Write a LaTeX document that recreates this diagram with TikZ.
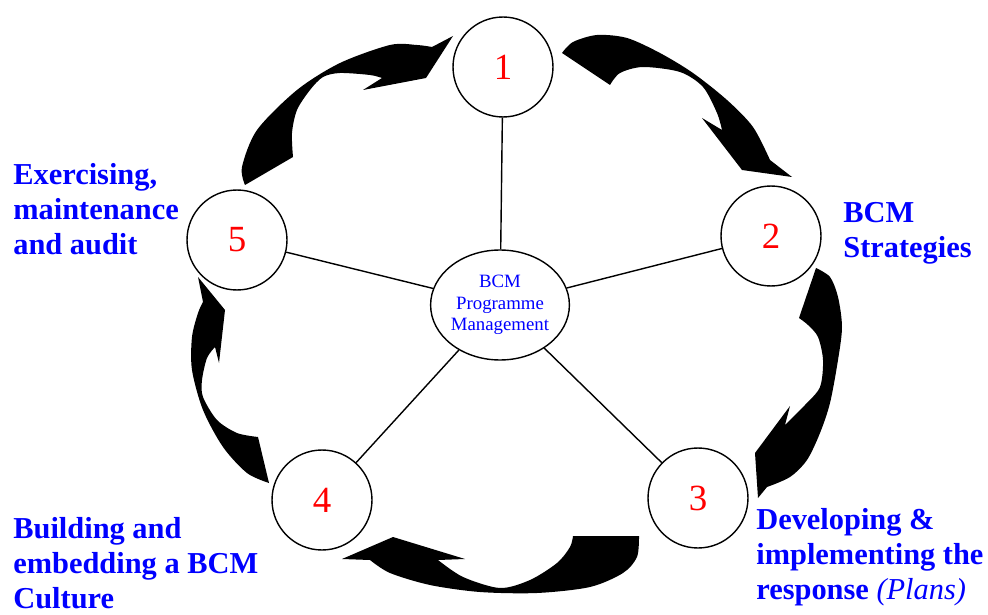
\documentclass[tikz,border=0pt]{standalone}
\usepackage{fontspec}
\setmainfont{Liberation Serif}
\usepackage{xcolor}
\usepackage{tikz}
\usetikzlibrary{shapes.geometric}

\begin{document}
\begin{tikzpicture}[x=0.02cm, y=-0.02cm,
    stage/.style={shape=circle, draw, line width=0.8pt, minimum size=2cm, inner sep=0pt,
      text=red, font=\fontsize{21}{24}\selectfont},
    hub/.style={shape=ellipse, draw, line width=0.8pt, minimum width=2.62cm, minimum height=2.2cm,
      inner sep=0pt, text=blue, align=center, font=\fontsize{10.7}{12.3}\selectfont},
    caption/.style={anchor=north west, inner sep=0pt, text=blue, align=left,
      font=\fontsize{17.3}{19.9}\selectfont\bfseries},
    curly/.style={fill=black}]
    \useasboundingbox (0,0) rectangle (988,615);

    \node[hub] (hub) at (500,305) {BCM\\Programme\\Management};
    \node[stage] (n1) at (503,67) {1};
    \node[stage] (n2) at (771,236) {2};
    \node[stage] (n3) at (698,498) {3};
    \node[stage] (n4) at (322,500) {4};
    \node[stage] (n5) at (237,240) {5};

    \foreach \n in {1,...,5}
      \draw[line width=0.8pt] (hub) -- (n\n);

    % curved arrows round the cycle
    \fill[curly] plot[smooth] coordinates {(245,185) (242,167) (257,130) (297,90) (340,63) (390,45) (417,45) (432,47)}
      -- (453,36) -- (426,78) -- (363,90) -- (382,78)
      -- plot[smooth] coordinates {(382,78) (370,75) (340,73) (323,77) (310,90) (297,110) (292,133) (293,157)} -- cycle;
    \fill[curly] plot[smooth] coordinates {(562,53) (573,42) (597,35) (627,38) (660,53) (693,73) (727,100) (753,127) (770,160)}
      -- (792,177) -- (742,170) -- (702,118) -- (722,130)
      -- plot[smooth] coordinates {(722,130) (717,113) (703,87) (680,72) (643,67) (620,73) (610,85)} -- cycle;
    \fill[curly] plot[smooth] coordinates {(816,268) (830,277) (838,297) (842,327) (838,360) (830,403) (820,433) (807,460) (790,477) (767,487)}
      -- (758,498) -- (755,453) -- (790,406) -- (785,425)
      -- plot[smooth] coordinates {(785,425) (805,405) (820,387) (823,360) (818,337) (808,325) (799,318)} -- cycle;
    \fill[curly] plot[smooth] coordinates {(639,536) (637,557) (623,573) (590,587) (537,593) (480,592) (430,585) (390,573) (370,560)}
      -- (342,559) -- (393,537) -- (465,559) -- (438,560)
      -- plot[smooth] coordinates {(438,560) (463,577) (500,588) (530,580) (557,563) (570,547) (573,536)} -- cycle;
    \fill[curly] plot[smooth] coordinates {(269,483) (247,473) (223,447) (203,410) (192,370) (192,337) (198,313) (203,302)}
      -- (198,277) -- (225,310) -- (219,363) -- (215,347)
      -- plot[smooth] coordinates {(215,347) (207,358) (202,380) (203,397) (217,420) (237,433) (258,437)} -- cycle;

    \node[caption] (t5) at (13,163) {Exercising,\\maintenance\\and audit};
    \node[caption] (t2) at (843,202) {BCM\\Strategies};
    \node[caption] (t3) at (756,508) {Developing \&\\implementing the\\response \mdseries\itshape(Plans)};
    \node[caption] (t4) at (13,517) {Building and\\embedding a BCM\\Culture};
\end{tikzpicture}
\end{document}
